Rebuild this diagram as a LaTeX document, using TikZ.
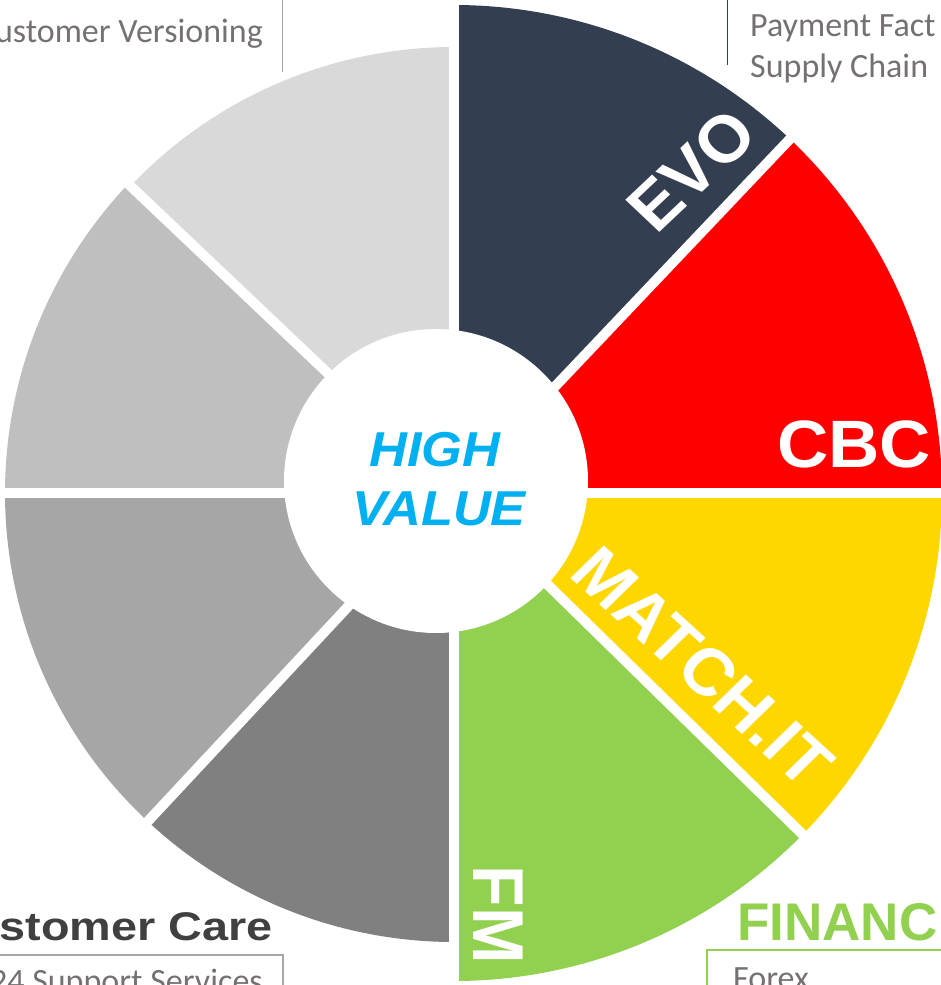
\documentclass[tikz,border=0pt]{standalone}
\usepackage{fontspec}
\setmainfont{Liberation Sans}
\newfontfamily\notefont{Carlito}
\usetikzlibrary{positioning}
\usetikzlibrary{calc}
\definecolor{evo-navy}{HTML}{333F50}
\definecolor{cbc-red}{HTML}{FF0000}
\definecolor{match-gold}{HTML}{FFD700}
\definecolor{fm-green}{HTML}{92D050}
\definecolor{value-blue}{HTML}{00B0F0}
\definecolor{note-gray}{HTML}{767171}
\definecolor{care-gray}{HTML}{404040}
\definecolor{rule-gray}{HTML}{A6A6A6}
\colorlet{gap}{white}
\newcommand{\tikzsector}[4][]{%
% wedge from the hub out to the rim
\fill[#1] (0,0) -- (#2:#4pt) arc[start angle=#2, end angle=#3, radius=#4pt] -- cycle;
}

\begin{document}
\begin{tikzpicture}[x=1pt, y=1pt,
  wedgelabel/.style={text=white, inner sep=0pt, xscale=1.06, font=\bfseries\fontsize{#1}{#1}\selectfont},
  valuetext/.style={text=value-blue, inner sep=0pt, xscale=1.07, font=\bfseries\itshape\fontsize{49}{49}\selectfont},
  heading/.style={inner sep=0pt, font=\bfseries\fontsize{#1}{#1}\selectfont},
  note/.style={text=note-gray, inner sep=0pt, font=\notefont\fontsize{34}{41}\selectfont}]
\useasboundingbox (-454,-492) rectangle (486,493);
% coloured wedges
\tikzsector[evo-navy]{46.5}{90}{488}
\tikzsector[cbc-red]{0}{46.5}{488}
\tikzsector[match-gold]{-44.4}{0}{488}
\tikzsector[fm-green]{-90}{-44.4}{488}
% grey wedges
\tikzsector[black!15]{90}{136.5}{446}
\tikzsector[black!25]{136.5}{180}{449}
\tikzsector[black!35]{180}{227}{449}
\tikzsector[black!50]{227}{270}{449}
% white gaps between the wedges
\foreach \gapangle in {90,46.5,0,-44.4,-90,-133,180,136.5} {
  \draw[gap,line width=10pt] (0,0) -- (\gapangle:500pt);
}
% hub
\node[circle,fill=white,minimum size=304pt,inner sep=0pt] (hub) at (-18,12) {};
\node[valuetext,anchor=base] (high) at (-19,26) {HIGH};
\node[valuetext,anchor=base] (value) at (-15,-32) {VALUE};
% wedge labels
\node[wedgelabel=66,rotate=45] (evo) at (238,323) {EVO};
\node[wedgelabel=67,anchor=base west] (cbc) at (323,25) {CBC};
\node[wedgelabel=66,rotate=-44] (match) at (249,-174) {MATCH.IT};
\node[wedgelabel=68,rotate=-90] (fm) at (44,-422) {FM};
% notes round the wheel
\node[note,anchor=base east] (versioning) at (-191,450) {ustomer Versioning};
\draw[rule-gray,line width=1pt] (-171,493) -- (-171,421);
\node[note,anchor=base west] (payment) at (296,456) {Payment Fact};
\node[note,anchor=base west] (supply) at (296,415) {Supply Chain};
\draw[evo-navy,line width=1pt] (273,493) -- (273,428);
% customer care
\node[heading=40,text=care-gray,anchor=base east,xscale=1.17] (care) at (-181,-447) {stomer Care};
\draw[rule-gray,line width=1.2pt] (-470,-520) rectangle (-171,-462);
\node[note,anchor=base east] (support) at (-191,-499) {24 Support Services};
% finance
\node[heading=53,text=fm-green,anchor=base west] (finance) at (283,-447) {FINANC};
\draw[fm-green,line width=1.5pt] (253,-520) rectangle (500,-457);
\node[note,anchor=base west] (forex) at (279,-496) {Forex};
\end{tikzpicture}
\end{document}
